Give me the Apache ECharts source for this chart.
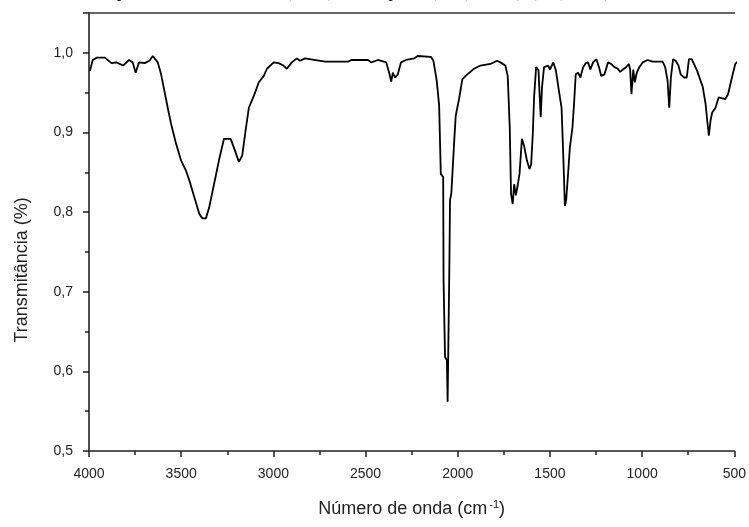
<!DOCTYPE html>
<html>
<head>
<meta charset="utf-8">
<script src="https://cdn.jsdelivr.net/npm/echarts@6/dist/echarts.min.js"></script>
<style>
    html,body{margin:0;padding:0;background:#fff;}
    #main{width:749px;height:527px;}
</style>
</head>
<body>
<div id="main"></div>
<script>
// numero de onda (cm-1)
var waveNumbers = [3995,3980,3957,3914,3878,3851,3815,3783,3763,3747,3729,3698,3672,3654,3627,3609,3591,3573,3555,3528,
    3501,3474,3456,3429,3402,3385,3366,3348,3322,3295,3268,3232,3214,3187,3169,3151,3133,3106,3079,3052,
    3035,2998,2972,2945,2927,2900,2873,2855,2828,2720,2595,2577,2487,2469,2433,2388,2370,2361,2352,2340,
    2325,2308,2281,2235,2218,2146,2132,2114,2101,2093,2092,2079,2077,2071,2069,2059,2055,2052,2045,2042,
    2035,2020,2011,1993,1975,1948,1912,1877,1823,1787,1769,1742,1729,1718,1711,1702,1694,1685,1674,1665,
    1652,1640,1625,1611,1602,1593,1586,1575,1562,1557,1550,1543,1532,1509,1500,1482,1468,1451,1437,1428,
    1419,1412,1401,1392,1378,1369,1360,1347,1335,1320,1306,1293,1281,1266,1248,1234,1222,1204,1185,1168,
    1150,1132,1119,1105,1087,1072,1065,1058,1048,1040,1029,1015,997,970,943,889,875,862,853,844,
    832,818,803,791,773,758,746,731,719,701,683,671,656,647,638,629,620,602,585,549,
    534,513,495,477,459,446];
// transmitancia
var transmittance = [0.977,0.991,0.994,0.994,0.987,0.988,0.984,0.991,0.988,0.975,0.988,0.987,0.990,0.996,0.988,0.973,0.952,0.931,0.911,0.886,
    0.865,0.852,0.840,0.819,0.798,0.792,0.792,0.806,0.835,0.865,0.892,0.892,0.881,0.863,0.871,0.902,0.931,0.946,0.963,0.971,
    0.980,0.988,0.987,0.984,0.980,0.988,0.993,0.990,0.993,0.989,0.989,0.991,0.991,0.988,0.991,0.988,0.973,0.964,0.975,0.969,
    0.973,0.988,0.991,0.993,0.996,0.995,0.990,0.965,0.934,0.934,0.848,0.844,0.714,0.714,0.618,0.614,0.562,0.614,0.742,0.815,
    0.823,0.886,0.921,0.942,0.967,0.973,0.980,0.984,0.986,0.990,0.988,0.984,0.971,0.906,0.823,0.810,0.835,0.821,0.835,0.848,
    0.892,0.883,0.865,0.854,0.860,0.898,0.944,0.982,0.978,0.952,0.919,0.957,0.982,0.984,0.979,0.988,0.978,0.952,0.931,0.873,
    0.808,0.815,0.850,0.881,0.906,0.937,0.973,0.975,0.969,0.982,0.987,0.988,0.979,0.988,0.992,0.982,0.971,0.973,0.988,0.986,
    0.982,0.980,0.976,0.979,0.982,0.986,0.979,0.948,0.979,0.963,0.975,0.982,0.988,0.991,0.989,0.989,0.982,0.965,0.931,0.969,
    0.992,0.990,0.984,0.973,0.969,0.969,0.992,0.992,0.986,0.977,0.965,0.957,0.936,0.915,0.896,0.915,0.925,0.931,0.944,0.942,
    0.948,0.969,0.986,0.990,0.986,0.987];

var spectrum = [];
for (var i = 0; i < waveNumbers.length; i++) {
    spectrum.push([waveNumbers[i], transmittance[i]]);
}

var myChart = echarts.init(document.getElementById('main'));
var option = {
    animation: false,
    backgroundColor: '#fff',
    grid: {left: 89, right: 10, top: 13, bottom: 76},
    xAxis: [{
        type: 'value',
        inverse: true,
        min: 500,
        max: 4000,
        interval: 500,
        name: 'Número de onda (cm{sup|-1})',
        nameLocation: 'middle',
        nameGap: 48,
        nameTextStyle: {
            fontFamily: 'Liberation Sans', fontSize: 18, color: '#222',
            rich: {sup: {fontFamily: 'Liberation Sans', fontSize: 11, color: '#222', verticalAlign: 'top', padding: [0, 0, 10, 2]}}
        },
        axisLine: {lineStyle: {color: '#222', width: 1.6}},
        axisTick: {length: 6, lineStyle: {color: '#222', width: 1.5}},
        minorTick: {show: true, splitNumber: 2, length: 4, lineStyle: {color: '#222', width: 1.5}},
        axisLabel: {
            margin: 16, fontFamily: 'Liberation Sans', fontSize: 14, color: '#222', showMinLabel: true, showMaxLabel: true,
            formatter: function (v) {
                return String(v);
            }
        },
        splitLine: {show: false}
    }, {
        type: 'value',
        position: 'top',
        inverse: true,
        min: 500,
        max: 4000,
        axisLine: {show: true, onZero: false, lineStyle: {color: '#333', width: 1.6}},
        axisTick: {show: false},
        axisLabel: {show: false},
        splitLine: {show: false}
    }],
    yAxis: {
        type: 'value',
        min: 0.5,
        max: 1.05,
        interval: 0.1,
        axisLine: {show: true, lineStyle: {color: '#222', width: 1.6}},
        axisTick: {show: true, length: 6, lineStyle: {color: '#222', width: 1.5}},
        minorTick: {show: true, splitNumber: 2, length: 4, lineStyle: {color: '#222', width: 1.5}},
        axisLabel: {
            margin: 16, fontFamily: 'Liberation Sans', fontSize: 14, color: '#222', showMaxLabel: false,
            formatter: function (v) {
                return v.toFixed(1).replace('.', ',');
            }
        },
        splitLine: {show: false}
    },
    graphic: [{
        type: 'text',
        x: 22,
        y: 270,
        rotation: Math.PI / 2,
        style: {text: 'Transmitância (%)', font: '18px "Liberation Sans"', fill: '#222', textAlign: 'center', textVerticalAlign: 'middle'}
    }, {
        // titulo cortado no topo da imagem
        type: 'text',
        x: 100,
        y: -16,
        style: {text: 'Espectro no infravermelho (FTIR) do complexo ([Ru(H4,P-S)2(CO)2]Cl2)', font: '17px "Liberation Serif"', fill: '#000', textVerticalAlign: 'top'}
    }],
    series: [{
        type: 'line',
        data: spectrum,
        showSymbol: false,
        clip: false,
        lineStyle: {color: '#000', width: 1.8}
    }]
};
myChart.setOption(option);
</script>
</body>
</html>
